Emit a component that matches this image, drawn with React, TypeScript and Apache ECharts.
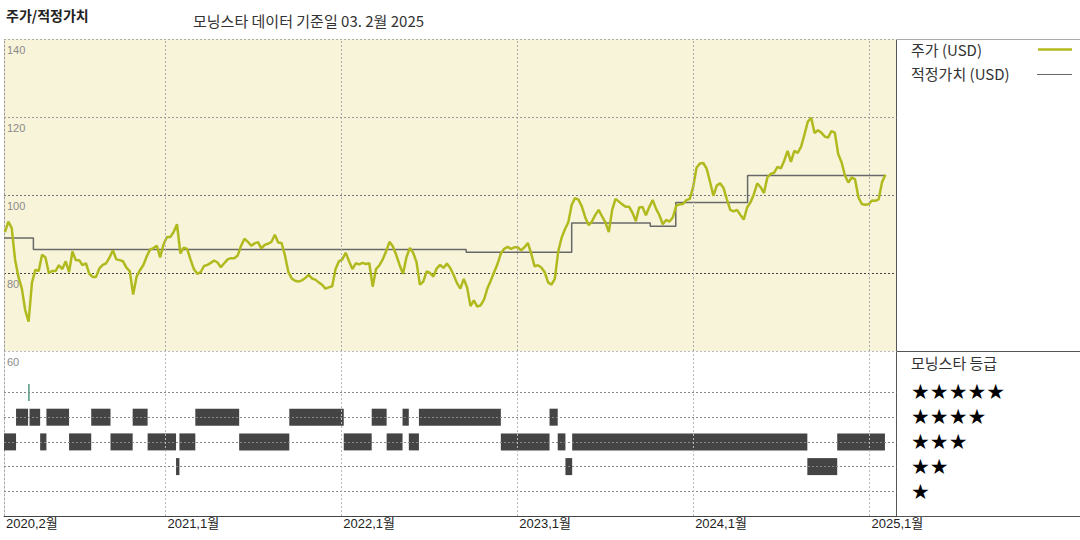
import React, { useEffect, useRef } from 'react';
import * as echarts from 'echarts';

// ---------- data ----------
const axisStart = '2020-02-01';
const axisEnd = '2025-02-26';
const priceStart = '2020-02-03'; // weekly closes from this date
const priceWeekly = [
  90.5, 93.2, 91.5, 83.4, 79.0, 76.0, 70.5, 67.5, 77.5, 80.8,
  80.5, 84.7, 84.0, 80.0, 80.5, 80.5, 82.0, 81.0, 83.0, 80.2,
  85.5, 83.3, 83.3, 82.0, 82.5, 79.8, 79.0, 79.0, 81.2, 82.1,
  82.5, 84.0, 85.8, 83.5, 83.3, 83.0, 81.4, 80.5, 74.5, 79.0,
  80.7, 82.0, 84.2, 86.0, 86.4, 87.0, 84.0, 87.3, 89.2, 89.2,
  90.5, 92.5, 85.0, 86.5, 86.2, 83.5, 81.0, 79.8, 80.2, 81.8,
  82.1, 82.6, 83.2, 82.7, 81.5, 82.5, 83.5, 83.8, 83.8, 84.5,
  87.0, 88.8, 88.0, 87.0, 87.6, 87.9, 86.3, 87.2, 87.5, 88.0,
  89.8, 87.8, 87.7, 84.5, 80.3, 78.6, 78.0, 77.8, 78.1, 78.7,
  79.5, 78.6, 78.3, 77.6, 77.0, 76.0, 76.3, 76.6, 81.0, 83.0,
  83.5, 85.2, 83.0, 81.0, 82.5, 82.2, 82.6, 82.3, 82.5, 76.5,
  81.0, 82.0, 83.5, 85.6, 88.0, 86.8, 84.6, 82.0, 79.8, 84.0,
  86.4, 85.2, 82.8, 77.0, 77.8, 80.4, 80.0, 79.1, 81.2, 82.1,
  81.3, 82.4, 81.3, 79.5, 77.4, 76.0, 78.5, 76.3, 71.5, 73.0,
  71.4, 71.7, 73.2, 76.0, 78.0, 80.2, 82.3, 85.0, 86.2, 86.7,
  86.2, 86.6, 86.6, 85.8, 86.6, 87.7, 85.0, 81.7, 82.0, 81.4,
  80.2, 77.6, 77.0, 78.5, 85.5, 89.0, 91.2, 93.0, 97.5, 99.2,
  98.8, 97.1, 94.3, 92.3, 93.2, 94.9, 96.2, 94.5, 93.0, 90.5,
  96.2, 99.0, 98.3, 97.6, 97.0, 97.0, 95.5, 93.3, 96.8, 96.9,
  94.8, 96.9, 98.7, 96.5, 94.8, 92.5, 93.6, 93.2, 94.3, 97.3,
  97.6, 97.7, 98.7, 99.0, 102.0, 107.0, 108.1, 108.2, 106.8, 103.4,
  99.8, 102.4, 103.0, 101.8, 98.9, 96.2, 95.8, 96.2, 94.9, 93.7,
  96.8, 98.1, 100.2, 103.0, 102.0, 100.5, 104.5, 105.4, 105.7, 107.2,
  106.8, 108.8, 111.3, 108.5, 111.3, 110.8, 112.4, 115.5, 118.8, 119.8,
  115.9, 116.6, 116.0, 115.0, 114.7, 116.4, 116.0, 110.5, 108.4, 105.0,
  103.2, 104.5, 104.0, 99.4, 97.7, 97.5, 97.6, 98.6, 98.5, 98.9,
  103.3, 105.2,
];
const fairValueSteps: [string, number][] = [
  ['2020-02-01', 89.0],
  ['2020-04-02', 86.0],
  ['2022-09-17', 85.3],
  ['2023-04-24', 92.8],
  ['2023-10-04', 92.0],
  ['2023-11-26', 98.1],
  ['2024-04-23', 105.0],
  ['2025-02-03', 105.0],
];
const ratingSegments: [string, string, number][] = [
  ['2020-02-01', '2020-02-26', 3],
  ['2020-02-26', '2020-03-22', 4],
  ['2020-03-22', '2020-03-25', 5],
  ['2020-03-25', '2020-04-16', 4],
  ['2020-04-16', '2020-04-29', 3],
  ['2020-04-29', '2020-06-15', 4],
  ['2020-06-15', '2020-07-31', 3],
  ['2020-07-31', '2020-09-09', 4],
  ['2020-09-09', '2020-10-25', 3],
  ['2020-10-25', '2020-11-25', 4],
  ['2020-11-25', '2021-01-23', 3],
  ['2021-01-23', '2021-01-30', 2],
  ['2021-01-30', '2021-03-04', 3],
  ['2021-03-04', '2021-06-03', 4],
  ['2021-06-03', '2021-09-15', 3],
  ['2021-09-15', '2022-01-06', 4],
  ['2022-01-06', '2022-03-05', 3],
  ['2022-03-05', '2022-04-05', 4],
  ['2022-04-05', '2022-05-08', 3],
  ['2022-05-08', '2022-05-21', 4],
  ['2022-05-21', '2022-06-11', 3],
  ['2022-06-11', '2022-11-28', 4],
  ['2022-11-28', '2023-03-09', 3],
  ['2023-03-09', '2023-03-26', 4],
  ['2023-03-26', '2023-04-11', 3],
  ['2023-04-11', '2023-04-25', 2],
  ['2023-04-25', '2024-08-25', 3],
  ['2024-08-25', '2024-10-26', 2],
  ['2024-10-26', '2025-02-02', 3],
];
const xLabelDates = ['2020-02-01', '2021-01-01', '2022-01-01', '2023-01-01', '2024-01-01', '2025-01-01'];
const yearLines = ['2021-01-01', '2022-01-01', '2023-01-01', '2024-01-01', '2025-01-01'];
const ratingLevels = [1, 2, 3, 4, 5];
const starLabels = ['★★★★★', '★★★★', '★★★', '★★', '★'];
const titleText = '주가/적정가치';
const subtitleText = '모닝스타 데이터 기준일 03. 2월 2025';
const legendPrice = '주가 (USD)';
const legendFair = '적정가치 (USD)';
const ratingTitle = '모닝스타 등급';

// ---------- styling ----------
const KR = "'Noto Sans CJK KR', sans-serif";
const LAT = "'Liberation Sans', 'Noto Sans CJK KR', sans-serif";
const STAR_FONT = "'DejaVu Sans', sans-serif";
const PRICE_COLOR = '#B0BA1E';
const FAIR_COLOR = '#686868';
const DAY = 86400000;
const ts = (s: string) => {
  const [y, m, d] = s.split('-').map(Number);
  return Date.UTC(y, m - 1, d);
};

export default function App() {
  const ref = useRef<HTMLDivElement>(null);
  useEffect(() => {
    const chart = echarts.init(ref.current as HTMLDivElement, null, { renderer: 'svg' });
    const t0 = ts(priceStart);
    const priceData = priceWeekly.map((v, i) => [t0 + i * 7 * DAY, v]);
    const fairData = fairValueSteps.map(([d, v]) => [ts(d), v]);
    const ratingData = ratingSegments.map(([a, b, r]) => [ts(a), ts(b), r]);
    const xMin = ts(axisStart);
    const xMax = ts(axisEnd);

    const graphic: any[] = [
      { type: 'text', x: 6, y: 15, style: { text: titleText, font: `bold 14px ${KR}`, fill: '#222', verticalAlign: 'middle' } },
      { type: 'text', x: 193, y: 20, style: { text: subtitleText, font: `15px ${KR}`, fill: '#333', verticalAlign: 'middle' } },
      { type: 'text', x: 911, y: 49, style: { text: legendPrice, font: `15px ${KR}`, fill: '#333', verticalAlign: 'middle' } },
      { type: 'line', shape: { x1: 1038, y1: 49.5, x2: 1072, y2: 49.5 }, style: { stroke: PRICE_COLOR, lineWidth: 2.5 } },
      { type: 'text', x: 911, y: 73.5, style: { text: legendFair, font: `15px ${KR}`, fill: '#333', verticalAlign: 'middle' } },
      { type: 'line', shape: { x1: 1037, y1: 74.5, x2: 1072, y2: 74.5 }, style: { stroke: FAIR_COLOR, lineWidth: 1 } },
      { type: 'text', x: 911, y: 362.5, style: { text: ratingTitle, font: `15px ${KR}`, fill: '#333', verticalAlign: 'middle' } },
      { type: 'line', shape: { x1: 896.5, y1: 39, x2: 896.5, y2: 516.5 }, style: { stroke: '#555', lineWidth: 1 } },
      { type: 'line', shape: { x1: 896, y1: 39.5, x2: 1080, y2: 39.5 }, style: { stroke: '#aaa', lineWidth: 1 } },
      { type: 'line', shape: { x1: 896, y1: 351.5, x2: 1080, y2: 351.5 }, style: { stroke: '#555', lineWidth: 1 } },
      { type: 'line', shape: { x1: 896, y1: 516.5, x2: 1080, y2: 516.5 }, style: { stroke: '#555', lineWidth: 1 } },
    ];
    const starYs = [392, 417, 441.5, 466.5, 491.5];
    starLabels.forEach((s, i) => {
      graphic.push({
        type: 'text', x: 911, y: starYs[i],
        style: { text: s, fontSize: 21, fontFamily: STAR_FONT, lineHeight: 21, fill: '#000', verticalAlign: 'middle' },
      });
    });

    const option: any = {
      animation: false,
      backgroundColor: '#fff',
      grid: [
        { left: 4, right: 183.5, top: 39, height: 312, show: true, backgroundColor: '#F8F4D9', borderWidth: 0 },
        { left: 4, right: 183.5, top: 351, height: 165, show: false },
      ],
      xAxis: [
        { type: 'value', gridIndex: 0, min: xMin, max: xMax, show: false, scale: true },
        {
          type: 'value', gridIndex: 1, min: xMin, max: xMax, scale: true,
          axisLine: { show: true, lineStyle: { color: '#444', width: 1 } },
          axisTick: { show: false },
          splitLine: { show: false },
          axisLabel: {
            customValues: xLabelDates.map(ts),
            formatter: (v: number) => {
              const d = new Date(v);
              return `${d.getUTCFullYear()},${d.getUTCMonth() + 1}월`;
            },
            align: 'left', margin: 1, fontSize: 13, color: '#222', fontFamily: LAT,
            padding: [0, 0, 0, 2], hideOverlap: false, showMinLabel: true, showMaxLabel: true,
          },
        },
      ],
      yAxis: [
        {
          type: 'value', gridIndex: 0, min: 60, max: 140, interval: 20,
          axisLine: { show: true, lineStyle: { color: '#999', type: [2, 2] } },
          axisTick: { show: false },
          axisLabel: {
            inside: true, margin: 3, verticalAlign: 'top', padding: [6, 0, 0, 0],
            fontSize: 11, color: '#8a8a8a', fontFamily: LAT, showMinLabel: true, showMaxLabel: true,
          },
          splitLine: { show: true, lineStyle: { color: ['#bbb', '#444', '#777', '#999', '#aaa'], type: [2, 2], width: 1 } },
        },
        {
          type: 'value', gridIndex: 1, min: 0, max: 6.68,
          axisLine: { show: true, lineStyle: { color: '#aaa', type: [2, 2] } },
          axisTick: { show: false }, axisLabel: { show: false }, splitLine: { show: false },
        },
      ],
      series: [
        {
          name: legendFair, type: 'line', xAxisIndex: 0, yAxisIndex: 0, step: 'end',
          data: fairData, symbol: 'none', z: 2,
          lineStyle: { color: FAIR_COLOR, width: 1.5 },
          markLine: {
            silent: true, symbol: ['none', 'none'], label: { show: false },
            lineStyle: { color: '#aaa', type: [2, 2], width: 1 },
            data: yearLines.map((d) => ({ xAxis: ts(d) })),
          },
        },
        {
          name: legendPrice, type: 'line', xAxisIndex: 0, yAxisIndex: 0,
          data: priceData, symbol: 'none', z: 3,
          lineStyle: { color: PRICE_COLOR, width: 2.5 },
        },
        {
          name: ratingTitle, type: 'custom', xAxisIndex: 1, yAxisIndex: 1,
          data: ratingData, encode: { x: [0, 1], y: 2 }, z: 3,
          renderItem: (params: any, api: any) => {
            const r = api.value(2);
            const s = api.coord([api.value(0), r]);
            const e = api.coord([api.value(1), r]);
            const h = 17;
            return {
              type: 'rect',
              shape: { x: s[0], y: s[1] - h / 2, width: Math.max(e[0] - s[0], 1.6), height: h },
              style: { fill: r === 5 ? '#5a9e86' : '#444' },
            };
          },
          markLine: {
            silent: true, symbol: ['none', 'none'], label: { show: false },
            data: [
              ...ratingLevels.map((l) => ({ yAxis: l, lineStyle: { color: '#888', type: [2, 2], width: 1 } })),
              ...yearLines.map((d) => ({ xAxis: ts(d), lineStyle: { color: '#bbb', type: [2, 2], width: 1 } })),
            ],
          },
        },
      ],
      graphic,
    };
    chart.setOption(option);
    return () => chart.dispose();
  }, []);
  return <div ref={ref} style={{ position: 'fixed', left: 0, top: 0, width: 1080, height: 540 }} />;
}
